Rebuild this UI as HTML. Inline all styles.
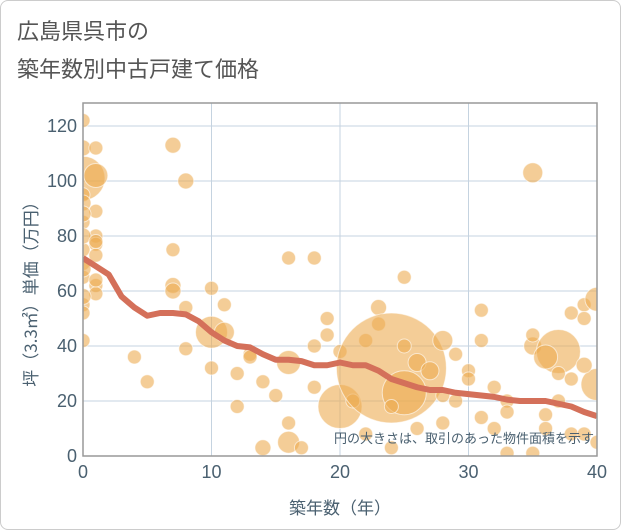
<!DOCTYPE html>
<html><head><meta charset="utf-8"><style>
body{margin:0;background:#fff;font-family:"Liberation Sans","Noto Sans CJK JP",sans-serif;}
#card{position:absolute;left:0;top:0;width:619px;height:528px;border:1px solid #ccc;border-radius:8px;}
.t{position:absolute;left:17px;font-size:22px;color:#555;font-family:"Noto Sans CJK JP",sans-serif;}
svg{position:absolute;left:0;top:0;}
</style></head><body>
<div id="card"></div>
<div class="t" style="top:14px">広島県呉市の</div>
<div class="t" style="top:52px">築年数別中古戸建て価格</div>
<svg id="c" width="621" height="530"></svg>
<script>
const bubX=[0,0,1,0,1,0,1,0,1,1,0,1,0,0,1,1,0,0,0,7,8,7,7,7,8,10,11,10,11,12,13,13,10,4,5,8,12,14,15,14,16,16,17,16,18,16,18,18,19,19,20,20,21,22,23,23,24,25,25,26,27,25,24,26,28,28,29,30,30,28,29,31,31,32,33,33,31,32,35,35,35,36,37,36,37,38,39,40,39,40,39,38,37,36,38,39,40,35,33,22,24,0,0,0,0,0,1,1];
const bubY=[122,112,112,101,102,95,89,85,80,77,75,73,70,65,62,59,55,52,42,113,100,75,62,60,54,45,45,61,55,30,37,36,32,36,27,39,18,27,22,3,12,5,3,72,72,34,25,40,50,44,38,18,20,42,54,48,32,23,40,34,31,65,18,10,12,42,37,31,28,22,20,53,42,25,20,16,14,10,40,44,103,15,38,36,30,52,55,57,50,26,33,28,20,10,8,8,5,1,1,8,3,92,88,80,68,58,78,64];
const bubR=[7,8,7,22,12,7,7,7,7,7,7,7,7,7,7,7,7,7,7,8,8,7,8,8,7,16,10,7,7,7,7,7,7,7,7,7,7,7,7,8,7,11,7,7,7,12,7,7,7,7,7,22,7,7,8,7,55,22,7,9,9,7,7,7,7,10,7,7,7,7,7,7,7,7,7,7,7,7,9,7,10,7,22,12,7,7,7,12,7,16,8,7,7,7,7,7,7,7,7,7,7,8,8,8,8,8,7,7];
const trendX=[0,1,2,3,4,5,6,7,8,9,10,11,12,13,14,15,16,17,18,19,20,21,22,23,24,25,26,27,28,29,30,31,32,33,34,35,36,37,38,39,40];
const trendY=[72,69,66,58,54,51,52,52,51.5,49,45,42,40,39.5,37,35,35,34.5,33,33,34,33,33,31,28,26.5,25,24,24,23,22.5,22,21.5,20.5,20,20,20,19,18,16,14.5];
const xTicks=[0,10,20,30,40];
const yTicks=[0,20,40,60,80,100,120];
const L=83,R=597,T=103,B=456;
const sx=v=>L+v*(R-L)/40, sy=v=>B-v*2.75;
const svg=document.getElementById('c');const NS='http://www.w3.org/2000/svg';
function mk(t,a,p){const e=document.createElementNS(NS,t);for(const k in a)e.setAttribute(k,a[k]);(p||svg).appendChild(e);return e;}
const defs=mk('defs',{});const cp=mk('clipPath',{id:'pc'},defs);mk('rect',{x:L,y:T,width:R-L,height:B-T},cp);
xTicks.forEach(v=>{const l=mk('line',{x1:sx(v),x2:sx(v),y1:T,y2:B,stroke:'#c5d3e0','stroke-width':1});

const t=mk('text',{x:sx(v),y:B+22,'text-anchor':'middle','font-size':18,fill:'#4a6070'});t.textContent=v;
});
yTicks.forEach(v=>{const l=mk('line',{x1:L,x2:R,y1:sy(v),y2:sy(v),stroke:'#c5d3e0','stroke-width':1});

const t=mk('text',{x:L-6,y:sy(v)+6,'text-anchor':'end','font-size':18,fill:'#4a6070'});t.textContent=v;
});
const g=mk('g',{'clip-path':'url(#pc)'});
bubX.forEach((x,i)=>{const c=mk('circle',{cx:sx(x),cy:sy(bubY[i]),r:bubR[i],fill:'rgba(236,172,82,0.6)',stroke:'rgba(255,255,255,0.6)','stroke-width':1},g);
});
const pl=mk('polyline',{points:trendX.map((x,i)=>sx(x)+','+sy(trendY[i])).join(' '),fill:'none',stroke:'#d4705a','stroke-width':6,'stroke-linejoin':'round','clip-path':'url(#pc)'});

const fr=mk('rect',{x:L,y:T,width:R-L,height:B-T,fill:'none',stroke:'#999','stroke-width':1.5});

const n=mk('text',{x:594,y:443,'text-anchor':'end','font-size':13,fill:'#4a6070','font-family':'Noto Sans CJK JP,sans-serif'});n.textContent='円の大きさは、取引のあった物件面積を示す';

const xt=mk('text',{x:340,y:514,'text-anchor':'middle','font-size':17,fill:'#4a6070','font-family':'Noto Sans CJK JP,sans-serif'});xt.textContent='築年数（年）';

const yt=mk('text',{x:0,y:0,'text-anchor':'middle','font-size':17,fill:'#4a6070','font-family':'Noto Sans CJK JP,sans-serif',transform:'translate(37,290) rotate(-90)'});yt.textContent='坪（3.3㎡）単価（万円）';

</script>
</body></html>
